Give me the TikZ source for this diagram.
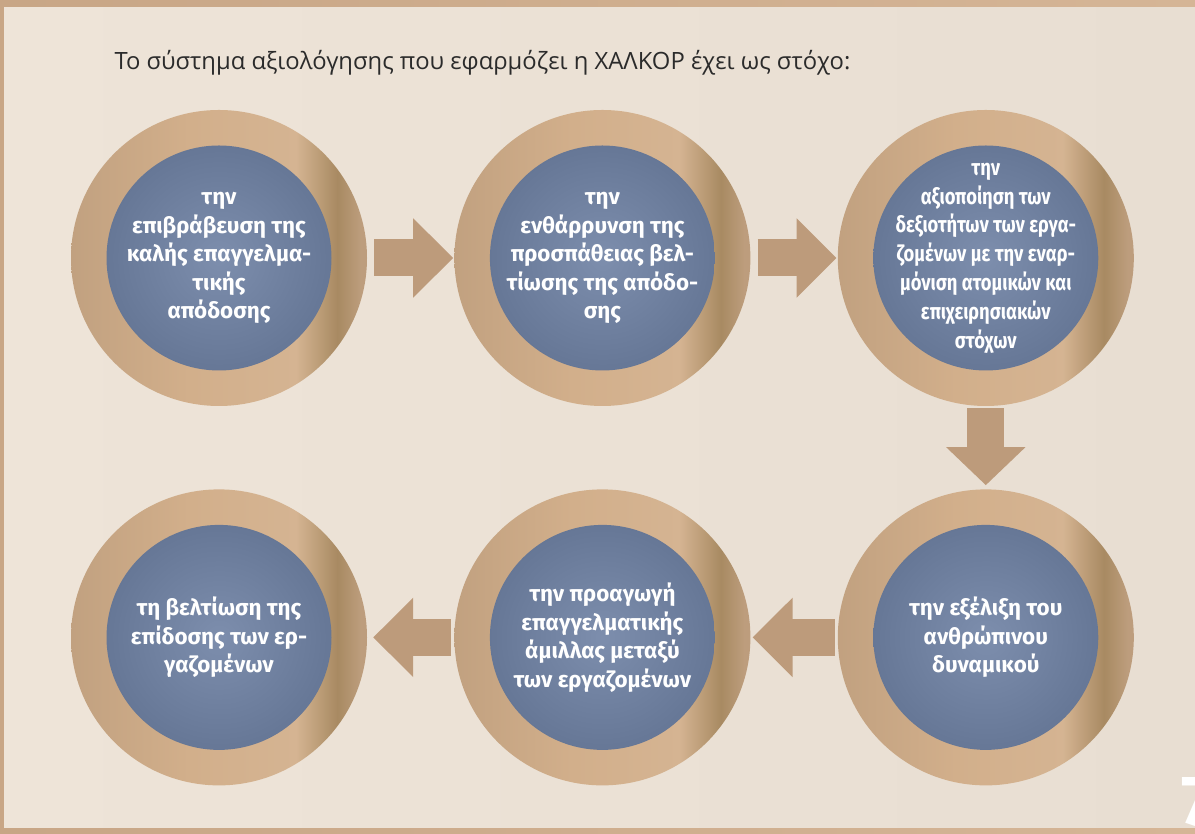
\documentclass[tikz,border=0pt]{standalone}
\usepackage{fontspec}
\setmainfont{Open Sans}
\newfontfamily\circfont{Fira Sans}
\newfontfamily\circcondfont{Fira Sans}[FakeStretch=0.82]
\usetikzlibrary{positioning,arrows.meta}

\definecolor{frametan}{HTML}{C8A686}
\definecolor{framelight}{HTML}{D5B596}
\definecolor{paperlight}{HTML}{F2E8DC}
\definecolor{paperdark}{HTML}{E8DED2}
\definecolor{ringtan}{HTML}{D2AF8B}
\definecolor{ringdark}{HTML}{A88A62}
\definecolor{slatecore}{HTML}{7D8EAD}
\definecolor{slateedge}{HTML}{5F708F}
\definecolor{arrowtan}{HTML}{BD9B7B}
\definecolor{titlegray}{HTML}{2B2B2B}

\pgfdeclarehorizontalshading{ringshade}{100bp}{color(0bp)=(ringtan!92!black); color(25bp)=(ringtan!92!black); color(45bp)=(ringtan); color(63bp)=(ringtan!94!white); color(70bp)=(ringdark); color(74bp)=(ringtan!90!black); color(100bp)=(ringtan!90!black)}

\begin{document}
\begin{tikzpicture}[
  x=1pt, y=1pt,
  node distance=83pt and 87pt,
  goal/.style={circle, minimum size=296pt, inner sep=0pt, shade, shading=ringshade,
    align=center, text=white, font=\circfont\bfseries\fontsize{22.4}{28.5}\selectfont,
    path picture={\shade[inner color=slatecore, outer color=slateedge]
      (path picture bounding box.center) circle (112.5pt);}},
  flow/.style={arrowtan, line width=37pt, -{Triangle[length=40pt, width=77pt]}}
]
\useasboundingbox (0,0) rectangle (1195,834);
% frame and paper
\shade[left color=frametan, right color=framelight] (0,0) rectangle (1195,834);
\shade[left color=paperdark!40!paperlight, right color=paperdark] (4,6) rectangle (1195,826);

\node[anchor=base west, text=titlegray, font=\fontsize{23.8}{28}\selectfont] (title) at (111,764)
  {Το σύστημα αξιολόγησης που εφαρμόζει η ΧΑΛΚΟΡ έχει ως στόχο:};

% goals
\node[goal] (c1) at (219,576) {την\\επιβράβευση της\\καλής επαγγελμα-\\τικής\\απόδοσης};
\node[goal, right=of c1] (c2) {την\\ενθάρρυνση της\\προσπάθειας βελ-\\τίωσης της απόδο-\\σης};
\node[goal, right=of c2, font=\circcondfont\bfseries\fontsize{22.4}{28.8}\selectfont] (c3)
  {την\\αξιοποίηση των\\δεξιοτήτων των εργα-\\ζομένων με την εναρ-\\μόνιση ατομικών και\\επιχειρησιακών\\στόχων};
\node[goal, below=of c3] (c4) {την εξέλιξη του\\ανθρώπινου\\δυναμικού};
\node[goal, left=of c4] (c5) {την προαγωγή\\επαγγελματικής\\άμιλλας μεταξύ\\των εργαζομένων};
\node[goal, left=of c5] (c6) {τη βελτίωση της\\επίδοσης των ερ-\\γαζομένων};

\draw[flow, shorten <=7pt, shorten >=1pt] (c1.east) -- (c2.west);
\draw[flow, shorten <=7pt, shorten >=1pt] (c2.east) -- (c3.west);
\draw[flow, -{Triangle[length=38pt, width=77pt]}, shorten <=2pt, shorten >=4pt] (c3.south) -- (c4.north);
\draw[flow, shorten <=3pt, shorten >=2pt] (c4.west) -- (c5.east);
\draw[flow, shorten <=3pt, shorten >=6pt] (c5.west) -- (c6.east);

% page number
\begin{scope}
  \clip (0,0) rectangle (1195,834);
  \node[anchor=base west, inner sep=0pt, text=white, font=\circfont\bfseries\fontsize{71}{71}\selectfont] (pagenum) at (1181,8) {7};
\end{scope}
\end{tikzpicture}
\end{document}
